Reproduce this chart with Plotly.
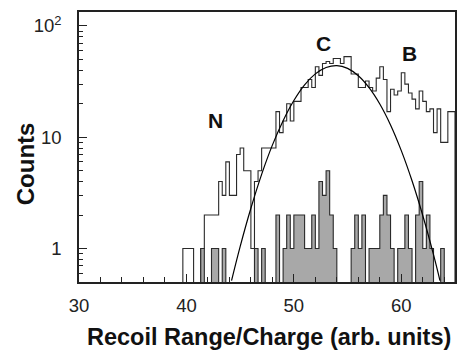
import numpy as np
import plotly.graph_objects as go

# ---- data ----
bin_start = 119 / 3.0      # first bin edge
bin_width = 1 / 3.0
open_counts = [1,1,1,0,0,1,2,2,2,2,
               4,3,6,3,3,7,8,5,5,1,
               4,5,8,8,8,8,17,11,14,20,
               14,21,21,28,28,33,28,43,36,46,
               48,46,51,51,46,53,53,37,37,28,
               28,32,28,26,34,43,33,17,27,24,
               26,38,30,25,22,18,26,21,17,18,
               11,18,9,9,17,17]
gray_counts = [0,0,0,0,0,1,0,0,1,1,
               0,1,0,0,0,0,0,0,0,0,
               1,0,1,0,0,0,2,0,1,2,
               1,2,2,2,1,1,2,1,4,3,
               5,2,1,0,0,0,0,1,2,1,
               2,0,1,1,1,2,3,2,1,0,
               1,1,2,1,0,2,4,1,2,1,
               0,0,1,0,0,0]
fit_x = [44.2, 45, 46, 47, 48, 49, 50, 51, 52, 53, 54, 55, 56, 57, 58, 59, 60, 61, 62, 63, 63.6]
fit_y = [0.515, 1.04, 2.30, 4.64, 8.49, 14.1, 21.4, 29.6, 37.1, 42.3, 44.0, 41.6, 35.7, 27.9, 19.9, 12.9, 7.58, 4.06, 1.98, 0.88, 0.515]
x_ticks = [30, 40, 50, 60]
y_ticks = [1, 10, 100]
y_ticktext = ["1", "10", "10<sup>2</sup>"]
labels = [("N", 42.75, 14.0), ("C", 52.8, 69.0), ("B", 60.75, 56.0)]

FLOOR = 0.05
edges = bin_start + bin_width * np.arange(len(open_counts) + 1)

def steps(counts):
    xs, ys = [edges[0]], [FLOOR]
    for i, c in enumerate(counts):
        v = c if c > 0 else FLOOR
        xs += [edges[i], edges[i + 1]]
        ys += [v, v]
    xs.append(edges[-1]); ys.append(FLOOR)
    return xs, ys

ox, oy = steps(open_counts)
gx, gy = steps(gray_counts)

FONT = "Liberation Sans, Arial, Helvetica, sans-serif"
fig = go.Figure()
fig.add_trace(go.Scatter(x=ox, y=oy, mode="lines", line=dict(color="#2a2a2a", width=1.1),
                         hoverinfo="skip", showlegend=False))
fig.add_trace(go.Scatter(x=gx, y=gy, mode="lines", fill="toself", fillcolor="#a8a8a8",
                         line=dict(color="#2a2a2a", width=1.1), hoverinfo="skip", showlegend=False))
fig.add_trace(go.Scatter(x=fit_x, y=fit_y, mode="lines", line=dict(color="black", width=1.2, shape="spline"),
                         hoverinfo="skip", showlegend=False))

for t, x, y in labels:
    fig.add_annotation(x=x, y=np.log10(y), text="<b>%s</b>" % t, showarrow=False,
                       font=dict(size=21, color="#111", family=FONT))

fig.add_annotation(xref="paper", yref="paper", x=0.5066, y=-0.204, text="<b>Recoil Range/Charge (arb. units)</b>",
                   showarrow=False, font=dict(size=23.5, color="#111", family=FONT), xanchor="center", yanchor="middle")
fig.add_annotation(xref="paper", yref="paper", x=-0.143, y=0.437, text="<b>Counts</b>", textangle=-90,
                   showarrow=False, font=dict(size=24, color="#111", family=FONT), xanchor="center", yanchor="middle")

fig.update_xaxes(range=[30, 65], tickvals=x_ticks, ticks="inside", ticklen=8, tickwidth=1.2, tickcolor="#222",
                 showgrid=False, zeroline=False, showline=True, linecolor="#222", linewidth=1.5, mirror=True,
                 ticklabelstandoff=6, tickfont=dict(size=18.5, family=FONT, color="#222"),
                 minor=dict(tickvals=[32, 34, 36, 38, 42, 44, 46, 48, 52, 54, 56, 58, 62, 64],
                            ticks="inside", ticklen=5, tickcolor="#222", tickwidth=1.1, showgrid=False))
minor_y = [0.6, 0.7, 0.8, 0.9] + [k for k in range(2, 10)] + [10 * k for k in range(2, 10)]
fig.update_yaxes(type="log", range=[np.log10(0.5), 2.1256], tickvals=y_ticks, ticktext=y_ticktext,
                 ticks="inside", ticklen=8, tickwidth=1.2, tickcolor="#222",
                 showgrid=False, zeroline=False, showline=True, linecolor="#222", linewidth=1.5, mirror=True,
                 ticklabelstandoff=12, tickfont=dict(size=18.5, family=FONT, color="#222"),
                 minor=dict(tickvals=minor_y, ticks="inside", ticklen=4, tickcolor="#222", tickwidth=1.1, showgrid=False))

fig.update_layout(width=460, height=352, margin=dict(l=79, r=3, t=12, b=70),
                  plot_bgcolor="white", paper_bgcolor="white", showlegend=False)
fig.write_html("out.html")
